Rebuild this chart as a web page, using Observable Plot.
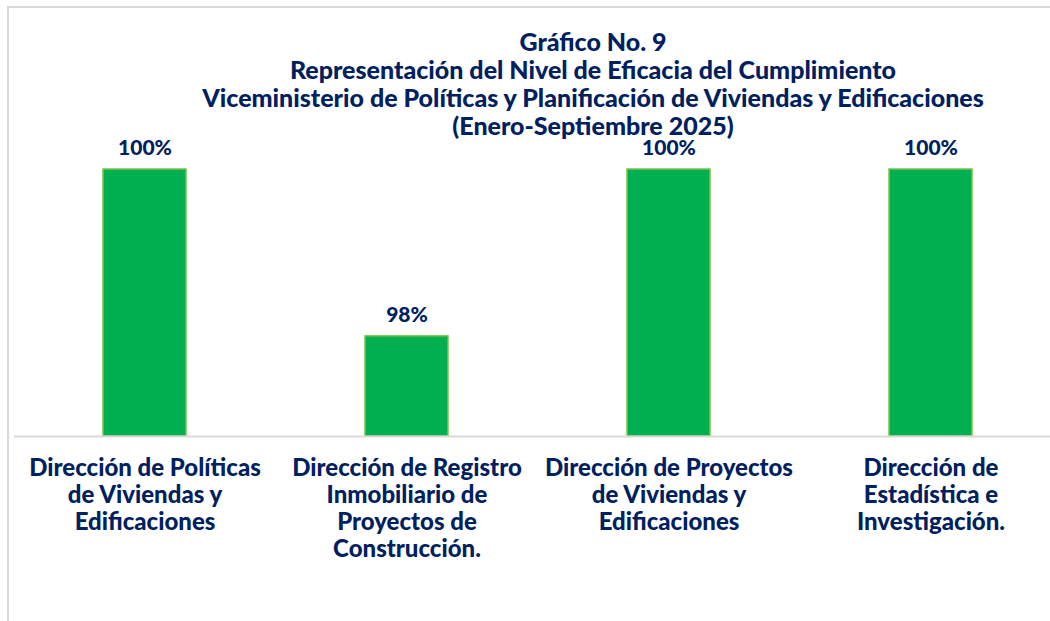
<!DOCTYPE html>
<html>
<head>
<meta charset="utf-8">
<script src="https://cdn.jsdelivr.net/npm/d3@7"></script>
<script src="https://cdn.jsdelivr.net/npm/@observablehq/plot@0.6"></script>
<style>
  html, body { margin: 0; padding: 0; background: #fff; }
  #wrap { position: relative; width: 1050px; height: 621px; overflow: hidden; }
  #frame { position: absolute; left: 7px; top: 6px; width: 1100px; height: 700px;
           border-left: 2px solid #d9d9d9; border-top: 2px solid #d9d9d9; }
  #title { position: absolute; left: 593px; top: 27px; transform: translateX(-50%);
           white-space: nowrap; text-align: center; font-family: Lato, sans-serif;
           font-weight: 900; font-size: 25px; line-height: 28px; color: #002060; }
  #chart { position: absolute; left: 0; top: 0; }
</style>
</head>
<body>
<div id="wrap">
  <div id="frame"></div>
  <div id="chart"></div>
  <div id="title">Gráfico No. 9<br>Representación del Nivel de Eficacia del Cumplimiento<br>Viceministerio de Políticas y Planificación de Viviendas y Edificaciones<br>(Enero-Septiembre 2025)</div>
</div>
<script>
const categories = [
  "Dirección de Políticas\nde Viviendas y\nEdificaciones",
  "Dirección de Registro\nInmobiliario de\nProyectos de\nConstrucción.",
  "Dirección de Proyectos\nde Viviendas y\nEdificaciones",
  "Dirección de\nEstadística e\nInvestigación."
];
const values = [100, 98, 100, 100];
const valueLabels = ["100%", "98%", "100%", "100%"];
const yMin = 96.8;

const data = categories.map((c, i) => ({cat: c, value: values[i], label: valueLabels[i]}));
const navy = "#002060";

const chart = Plot.plot({
  width: 1050,
  height: 621,
  marginLeft: 14,
  marginRight: 0,
  marginTop: 0,
  marginBottom: 0,
  style: {background: "transparent", fontFamily: "Lato, sans-serif"},
  x: {domain: categories, range: [14, 1062], paddingInner: 0.683, paddingOuter: 0.3415, axis: null},
  y: {domain: [yMin, 100], range: [436, 169], axis: null},
  marks: [
    Plot.barY(data, {x: "cat", y1: yMin, y2: "value", fill: "#00b050", stroke: "#7cc04a", strokeWidth: 1.5}),
    Plot.ruleY([yMin], {stroke: "#d9d9d9", strokeWidth: 2}),
    Plot.text(data, {x: "cat", y: "value", text: "label", dy: -21, fill: navy,
      fontSize: 21, fontWeight: 900, lineAnchor: "middle"}),
    Plot.text(data, {x: "cat", y: yMin, text: "cat", dy: 20, fill: navy,
      fontSize: 24, fontWeight: 900, lineAnchor: "top", lineHeight: 1.125})
  ]
});
document.getElementById("chart").appendChild(chart);
</script>
</body>
</html>
